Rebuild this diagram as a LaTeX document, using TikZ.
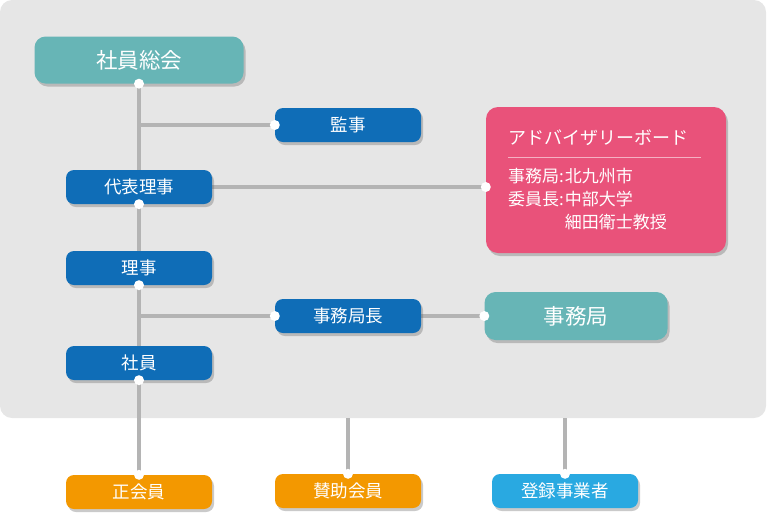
\documentclass[tikz,border=0pt]{standalone}
\usepackage{fontspec}
\setmainfont{Noto Sans CJK JP}
\usetikzlibrary{shadows}
\usetikzlibrary{backgrounds}
\definecolor{bggray}{HTML}{E6E6E6}
\definecolor{linegray}{HTML}{B4B4B4}
\definecolor{teal}{HTML}{67B5B6}
\definecolor{navy}{HTML}{0F6DB7}
\definecolor{rose}{HTML}{E9527A}
\definecolor{amber}{HTML}{F39800}
\definecolor{sky}{HTML}{29A9E1}
\tikzset{box/.style={rectangle, rounded corners=8pt, text=white, inner sep=0pt,
   minimum width=146pt, minimum height=34pt,
   font=\fontsize{17.5}{20}\selectfont,
   drop shadow={shadow xshift=2pt, shadow yshift=-3pt, opacity=.35, fill=black!60}}}
\tikzset{bigbox/.style={box, rounded corners=11pt, font=\fontsize{21.5}{24}\selectfont}}
\tikzset{link/.style={draw=linegray, line width=3.5pt}}
\tikzset{dot/.style={circle, fill=white, inner sep=0pt, minimum size=10pt}}

\begin{document}
\begin{tikzpicture}[x=1pt, y=-1pt]

    \useasboundingbox (0,0) rectangle (768,523);
    \begin{scope}[on background layer]
    \node[fill=bggray, rounded corners=12pt, inner sep=0pt,
          minimum width=766pt, minimum height=418pt] (frame) at (383,209) {};
    \end{scope}

    % upper column
    \node[bigbox, fill=teal, minimum width=209pt, minimum height=47pt] (soukai) at (139,60) {社員総会};
    \node[box, fill=navy] (kanji) at (348,125) {監事};
    \node[box, fill=navy] (daihyo) at (139,187) {代表理事};
    \node[box, fill=navy] (riji) at (139,268) {理事};
    \node[box, fill=navy] (kyokucho) at (348,316) {事務局長};
    \node[box, fill=navy] (shain) at (139,363) {社員};

    % right side
    \node[box, fill=rose, rounded corners=12pt, minimum width=240pt, minimum height=146pt] (board) at (606,180) {};
    \node[anchor=west, text=white, inner sep=0pt, font=\fontsize{18}{22}\selectfont] (boardtitle) at (508,138) {アドバイザリーボード};
    \draw[white, opacity=.55, line width=1pt] (508,157) -- (701,157);
    \node[anchor=north west, text=white, inner sep=0pt, font=\fontsize{17}{23}\selectfont] (boardbody) at (508,166)
      {\begin{tabular}{@{}l@{}l@{}}事務局:\hspace{1pt} & 北九州市\\ 委員長:\hspace{1pt} & 中部大学\\ & 細田衛士教授\end{tabular}};
    \node[bigbox, fill=teal, minimum width=183pt, minimum height=48pt] (jimukyoku) at (576,316) {事務局};

    % members
    \node[box, fill=amber] (seikai) at (139,492) {正会員};
    \node[box, fill=amber] (sanjo) at (348,491) {賛助会員};
    \node[box, fill=sky] (toroku) at (565,491) {登録事業者};

    \begin{scope}[on background layer]
    \draw[link] (soukai.south) -- (seikai.north);
    \draw[link] (soukai.south |- kanji.west) -- (kanji.west);
    \draw[link] (daihyo.east) -- (board.west |- daihyo.east);
    \draw[link] (riji.south |- kyokucho.west) -- (kyokucho.west);
    \draw[link] (kyokucho.east) -- (jimukyoku.west);
    \draw[link] (frame.south -| sanjo.north) -- (sanjo.north);
    \draw[link] (frame.south -| toroku.north) -- (toroku.north);
    \end{scope}

    \foreach \n in {soukai, daihyo, riji, shain}
      \node[dot] at (\n.south) {};
    \foreach \n in {kanji, kyokucho, jimukyoku}
      \node[dot] at (\n.west) {};
    \foreach \n in {seikai, sanjo, toroku}
      \node[dot] at (\n.north) {};
    \node[dot] at (board.west |- daihyo.east) {};

  \end{tikzpicture}
\end{document}
